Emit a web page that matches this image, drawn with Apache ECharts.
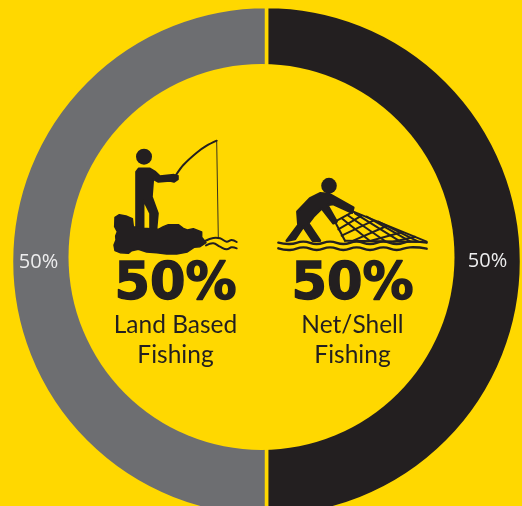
<!DOCTYPE html>
<html><head><meta charset="utf-8">
<style>html,body{margin:0;padding:0;background:#FFD800}#c{width:522px;height:506px}</style>
<script src="https://cdn.jsdelivr.net/npm/echarts@6/dist/echarts.min.js"></script>
</head><body><div id="c"></div>
<script>
const categories = ['Net/Shell Fishing', 'Land Based Fishing'];
const shares = [50, 50];
const sliceColors = ['#231F20', '#6D6E71'];
const headlineLabels = ['50%', '50%'];
const captionLines = [['Land Based', 'Fishing'], ['Net/Shell', 'Fishing']];

const YELLOW = '#FFD800', INK = '#231F20';
const labelShift = [[3, 0], [-10, 1]];

const fisherOrigin = [100, 130], netOrigin = [270, 170];
const at = (o, pts) => pts.map(p => [o[0] + p[0] / 3, o[1] + p[1] / 3]);
const fill = (o, pts, grow) => ({type: 'polygon', z: 20, shape: {points: at(o, pts)}, style: {fill: INK, stroke: INK, lineWidth: grow || 0, lineJoin: 'round'}});
const line = (o, pts, w, smooth) => ({type: 'polyline', z: 20, shape: {points: at(o, pts), smooth: smooth || 0}, style: {stroke: INK, lineWidth: w, fill: null, lineCap: 'round'}});
const dot = (o, x, y, r) => ({type: 'circle', z: 20, shape: {cx: o[0] + x / 3, cy: o[1] + y / 3, r: r}, style: {fill: INK}});

const fisher = [
  dot(fisherOrigin, 132, 80, 8),
  fill(fisherOrigin, [[108,125],[116,115],[150,115],[165,124],[180,138],[222,134],[234,137],[234,148],[222,156],[210,153],[175,156],[160,148],[156,200],[174,250],[170,295],[150,295],[150,250],[131,212],[131,295],[108,295]], 1.6),
  line(fisherOrigin, [[228,135],[250,105],[290,68],[320,47],[350,32]], 2, 0.3),
  line(fisherOrigin, [[350,32],[355,325]], 0.9),
  fill(fisherOrigin, [[45,262],[58,254],[78,258],[97,266],[100,290],[130,295],[175,298],[190,290],[205,284],[235,284],[250,295],[262,300],[280,296],[305,306],[305,322],[318,338],[300,350],[282,352],[262,366],[230,372],[200,372],[170,368],[140,366],[115,358],[95,362],[85,370],[60,368],[45,362],[42,345],[48,330],[47,318],[52,305],[44,290]], 1.5),
  line(fisherOrigin, [[315,333],[340,324],[360,325],[380,335],[395,330],[410,336]], 2, 0.4),
  line(fisherOrigin, [[318,346],[340,340],[360,350],[380,358],[395,352],[410,355]], 2, 0.4)
];

const netLines = [
  [[250,125],[470,215]], [[195,155],[225,212]], [[225,212],[440,215]],
  [[195,155],[250,125]], [[205,178],[275,137]], [[215,197],[310,152]], [[250,212],[350,168]], [[300,213],[395,187]], [[370,215],[435,200]],
  [[215,145],[300,213]], [[232,135],[345,213]], [[255,130],[390,214]], [[290,140],[420,214]], [[325,155],[445,215]]
];
const net = [
  dot(netOrigin, 177, 47, 7.8),
  fill(netOrigin, [[82,125],[120,85],[150,70],[178,72],[250,113],[246,128],[190,102],[172,105],[200,155],[190,160],[155,115],[130,140],[115,160],[150,212],[128,212],[100,170],[75,207],[50,212],[85,165]], 2.5),
  ...netLines.map(s => line(netOrigin, s, 2)),
  line(netOrigin, [[25,218],[60,222],[100,215],[140,222],[180,215],[220,222],[260,215],[300,222],[340,215],[380,222],[420,215],[470,218]], 2.4, 0.5),
  line(netOrigin, [[25,235],[60,240],[100,232],[140,240],[180,232],[220,240],[260,232],[300,240],[340,232],[380,240],[420,232],[470,236]], 2.4, 0.5)
];

const centres = [175.5, 352.5];
const texts = [];
centres.forEach((cx, i) => {
  texts.push({type: 'text', z: 20, x: cx, y: 286, style: {text: headlineLabels[i], fill: INK, stroke: INK, lineWidth: 1.4, font: '700 51px "DejaVu Sans"', align: 'center', verticalAlign: 'middle'}});
  captionLines[i].forEach((t, k) => texts.push({type: 'text', z: 20, x: cx, y: 325 + k * 30, style: {text: t, fill: INK, font: '400 24.5px Lato', align: 'center', verticalAlign: 'middle'}}));
});

const chart = echarts.init(document.getElementById('c'), null, {renderer: 'canvas'});
chart.setOption({
  animation: false,
  backgroundColor: YELLOW,
  series: [{
    type: 'pie',
    center: [266.5, 261.5],
    radius: [175, 255],
    startAngle: 90,
    clockwise: true,
    silent: true,
    labelLine: {show: false},
    itemStyle: {borderColor: YELLOW, borderWidth: 3.5},
    label: {show: true, position: 'inside', formatter: '{c}%', color: '#EDEDEE', fontFamily: 'Open Sans', fontWeight: 400, fontSize: 20},
    data: categories.map((name, i) => ({name, value: shares[i], itemStyle: {color: sliceColors[i]}, label: {offset: labelShift[i]}}))
  }],
  graphic: [
    {type: 'circle', z: 10, shape: {cx: 261.5, cy: 257, r: 193}, style: {fill: YELLOW}},
    ...fisher, ...net, ...texts
  ]
});
</script></body></html>
